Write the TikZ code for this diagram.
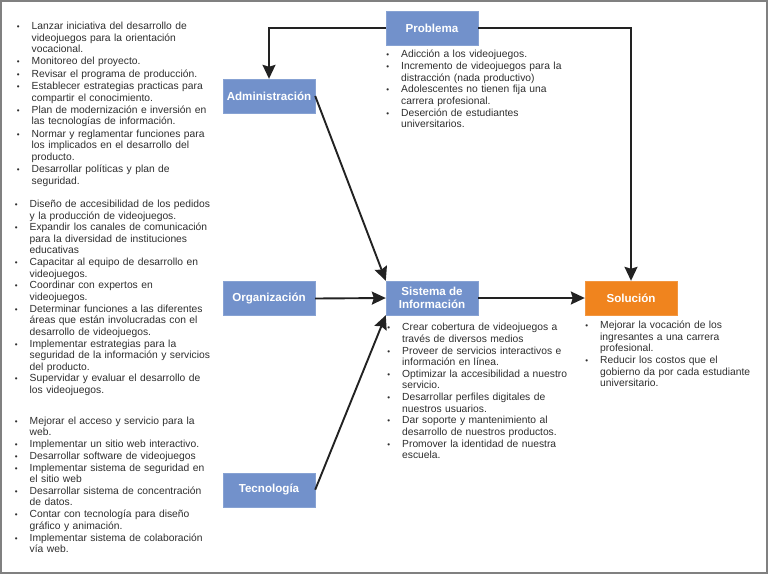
\documentclass[tikz,border=0pt]{standalone}
\usepackage{fontspec}
\setmainfont{Liberation Sans}
\usepackage{enumitem}
\usepackage{tikz}
\usetikzlibrary{arrows.meta,positioning}
\usepackage{xcolor}

\definecolor{azul}{HTML}{7291CB}
\definecolor{naranja}{HTML}{F0841E}
\definecolor{textogris}{HTML}{2E2E2E}
\definecolor{lineagris}{HTML}{222222}
\definecolor{marco}{HTML}{808080}

\setlist[itemize]{nosep,itemsep=0.3pt,leftmargin=15pt,labelwidth=3pt,labelsep=12pt,
  label={\rule{0pt}{8pt}\footnotesize\textbullet}}

\tikzset{
  caja/.style={fill=azul, draw=azul!85!white, text=white, align=center,
    font=\bfseries\fontsize{11.6}{13.3}\selectfont,
    minimum width=92pt, minimum height=34pt, inner sep=0pt},
  lista/.style={anchor=north west, inner sep=0pt, text width=240pt, align=left,
    text=textogris, font=\fontsize{10.3}{11.5}\selectfont},
  flecha/.style={draw=lineagris, line width=1.9pt, line join=miter,
    -{Stealth[length=14pt,width=13pt,inset=2pt]}}
}

\begin{document}
\begin{tikzpicture}[x=1pt,y=-1pt]
\useasboundingbox (0,0) rectangle (768,574);
\draw[marco, line width=2pt] (1,1) rectangle (767,573);

% cajas
\node[caja] (prob) at (432,28) {Problema};
\node[caja] (adm) at (269,96) {Administración};
\node[caja] (org) at (269,298.5) {Organización};
\node[caja] (tec) at (269,489.7) {Tecnología};
\node[caja] (sis) at (432,298) {Sistema de\\Información};
\node[caja, fill=naranja, draw=naranja!85!white] (sol) at (631,298) {Solución};

% listas
\node[lista, font=\fontsize{10.3}{11.65}\selectfont] (lAdm) at (16.5,17.5) {\begin{itemize}[itemsep=0.6pt]
  \item Lanzar iniciativa del desarrollo de\\videojuegos para la orientación\\vocacional.
  \item Monitoreo del proyecto.
  \item Revisar el programa de producción.
  \item Establecer estrategias practicas para\\compartir el conocimiento.
  \item Plan de modernización e inversión en\\las tecnologías de información.
  \item Normar y reglamentar funciones para\\los implicados en el desarrollo del\\producto.
  \item Desarrollar políticas y plan de\\seguridad.
\end{itemize}};
\node[lista] (lOrg) at (14.5,195.8) {\begin{itemize}
  \item Diseño de accesibilidad de los pedidos\\y la producción de videojuegos.
  \item Expandir los canales de comunicación\\para la diversidad de instituciones\\educativas
  \item Capacitar al equipo de desarrollo en\\videojuegos.
  \item Coordinar con expertos en\\videojuegos.
  \item Determinar funciones a las diferentes\\áreas que están involucradas con el\\desarrollo de videojuegos.
  \item Implementar estrategias para la\\seguridad de la información y servicios\\del producto.
  \item Supervidar y evaluar el desarrollo de\\los videojuegos.
\end{itemize}};
\node[lista] (lTec) at (14.5,412.5) {\begin{itemize}
  \item Mejorar el acceso y servicio para la\\web.
  \item Implementar un sitio web interactivo.
  \item Desarrollar software de videojuegos
  \item Implementar sistema de seguridad en\\el sitio web
  \item Desarrollar sistema de concentración\\de datos.
  \item Contar con tecnología para diseño\\gráfico y animación.
  \item Implementar sistema de colaboración\\vía web.
\end{itemize}};
\node[lista] (lProb) at (386,46) {\begin{itemize}
  \item Adicción a los videojuegos.
  \item Incremento de videojuegos para la\\distracción (nada productivo)
  \item Adolescentes no tienen fija una\\carrera profesional.
  \item Deserción de estudiantes\\universitarios.
\end{itemize}};
\node[lista] (lSis) at (387,319) {\begin{itemize}
  \item Crear cobertura de videojuegos a\\través de diversos medios
  \item Proveer de servicios interactivos e\\información en línea.
  \item Optimizar la accesibilidad a nuestro\\servicio.
  \item Desarrollar perfiles digitales de\\nuestros usuarios.
  \item Dar soporte y mantenimiento al\\desarrollo de nuestros productos.
  \item Promover la identidad de nuestra\\escuela.
\end{itemize}};
\node[lista] (lSol) at (585,317) {\begin{itemize}
  \item Mejorar la vocación de los\\ingresantes a una carrera\\profesional.
  \item Reducir los costos que el\\gobierno da por cada estudiante\\universitario.
\end{itemize}};

% conexiones
\draw[flecha] (prob.west) -| (adm.north);
\draw[flecha] (prob.east) -| (sol.north);
\draw[flecha] (adm.east) -- (sis.north west);
\draw[flecha] (org.east) -- (sis.west);
\draw[flecha] (tec.east) -- (sis.south west);
\draw[flecha] (sis.east) -- (sol.west);
\end{tikzpicture}
\end{document}
